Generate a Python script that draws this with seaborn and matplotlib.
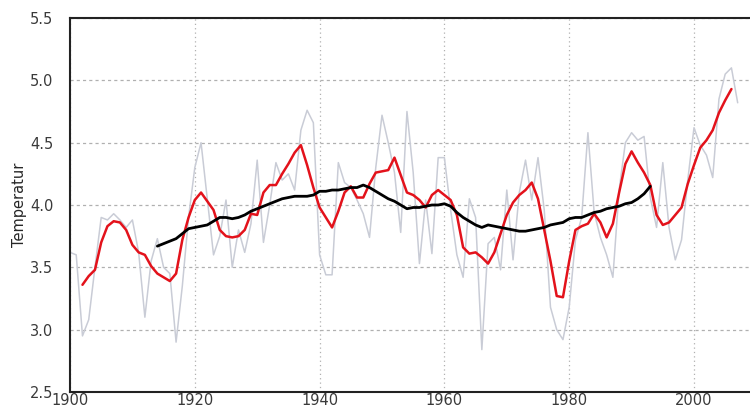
import numpy as np
import pandas as pd
import matplotlib
matplotlib.use("Agg")
import matplotlib.pyplot as plt
import seaborn as sns

# annual values, 1900-2007 (grey)
annual_years = list(range(1900, 2008))
annual_temp = [
    3.62, 3.60, 2.95, 3.08, 3.50, 3.90, 3.88, 3.93, 3.88, 3.82,
    3.88, 3.62, 3.10, 3.55, 3.73, 3.50, 3.45, 2.90, 3.35, 3.90,
    4.30, 4.50, 4.05, 3.60, 3.75, 4.04, 3.50, 3.80, 3.62, 3.85,
    4.36, 3.70, 4.00, 4.34, 4.20, 4.25, 4.12, 4.60, 4.76, 4.66,
    3.60, 3.44, 3.44, 4.34, 4.18, 4.14, 4.04, 3.93, 3.74, 4.30,
    4.72, 4.50, 4.26, 3.78, 4.75, 4.26, 3.53, 4.04, 3.61, 4.38,
    4.38, 3.96, 3.60, 3.42, 4.05, 3.90, 2.84, 3.69, 3.74, 3.48,
    4.12, 3.56, 4.10, 4.36, 4.04, 4.38, 3.96, 3.18, 3.00, 2.92,
    3.18, 3.72, 3.90, 4.58, 3.94, 3.74, 3.60, 3.42, 4.12, 4.50,
    4.58, 4.52, 4.55, 4.06, 3.82, 4.34, 3.82, 3.56, 3.72, 4.20,
    4.62, 4.48, 4.40, 4.22, 4.85, 5.05, 5.10, 4.82,
]

# short smoothing (red), 1902-2006
short_years = list(range(1902, 2007))
short_temp = [
    3.36, 3.43, 3.48, 3.70, 3.83, 3.87, 3.86, 3.80,
    3.68, 3.62, 3.60, 3.51, 3.45, 3.42, 3.39, 3.45, 3.72, 3.90,
    4.04, 4.10, 4.03, 3.96, 3.80, 3.75, 3.74, 3.75, 3.80, 3.93,
    3.92, 4.10, 4.16, 4.16, 4.25, 4.33, 4.42, 4.48, 4.32, 4.14,
    3.98, 3.90, 3.82, 3.95, 4.10, 4.15, 4.06, 4.06, 4.17, 4.26,
    4.27, 4.28, 4.38, 4.24, 4.10, 4.08, 4.04, 3.98, 4.08, 4.12,
    4.08, 4.04, 3.92, 3.66, 3.61, 3.62, 3.58, 3.53, 3.62, 3.77,
    3.92, 4.02, 4.08, 4.12, 4.18, 4.05, 3.80, 3.55, 3.27, 3.26,
    3.55, 3.80, 3.83, 3.85, 3.93, 3.86, 3.74, 3.85, 4.10, 4.33,
    4.43, 4.34, 4.26, 4.16, 3.92, 3.84, 3.86, 3.92, 3.98, 4.17,
    4.32, 4.46, 4.52, 4.60, 4.74, 4.84, 4.93,
]

# long smoothing (black), 1914-1993
long_years = list(range(1914, 1994))
long_temp = [
    3.67, 3.69, 3.71, 3.73, 3.77, 3.81,
    3.82, 3.83, 3.84, 3.87, 3.90, 3.90, 3.89, 3.90, 3.92, 3.95,
    3.97, 3.99, 4.01, 4.03, 4.05, 4.06, 4.07, 4.07, 4.07, 4.08,
    4.11, 4.11, 4.12, 4.12, 4.13, 4.14, 4.14, 4.16, 4.14, 4.11,
    4.08, 4.05, 4.03, 4.00, 3.97, 3.98, 3.98, 3.99, 4.00, 4.00,
    4.01, 3.99, 3.94, 3.90, 3.87, 3.84, 3.82, 3.84, 3.83, 3.82,
    3.81, 3.80, 3.79, 3.79, 3.80, 3.81, 3.82, 3.84, 3.85, 3.86,
    3.89, 3.90, 3.90, 3.92, 3.94, 3.95, 3.97, 3.98, 3.99, 4.01,
    4.02, 4.05, 4.09, 4.15,
]

x_ticks = [1900, 1920, 1940, 1960, 1980, 2000]
y_ticks = [2.5, 3.0, 3.5, 4.0, 4.5, 5.0, 5.5]

sns.set_style("white")

fig = plt.figure(figsize=(7.5, 4.07), dpi=100)
ax = fig.add_axes([70 / 750, 15 / 407, 690 / 750, 374 / 407])

sns.lineplot(x=annual_years, y=annual_temp, ax=ax, color="#c9ccd6", linewidth=1.1)
sns.lineplot(x=short_years, y=short_temp, ax=ax, color="#e3121b", linewidth=1.8)
sns.lineplot(x=long_years, y=long_temp, ax=ax, color="black", linewidth=2.0)

ax.set_xlim(1900, 1900 + 690 / 6.24)
ax.set_ylim(2.5, 5.5)
ax.set_xticks(x_ticks)
ax.set_yticks(y_ticks)
ax.set_xticklabels([str(t) for t in x_ticks])
ax.set_yticklabels([f"{t:.1f}" for t in y_ticks])

ax.xaxis.grid(True, color="#b0b0b0", linestyle=(0, (1, 2.5)), linewidth=0.9)
ax.yaxis.grid(True, color="#b0b0b0", linestyle=(0, (2.5, 2.5)), linewidth=0.9)
ax.set_axisbelow(True)

for side in ["left", "top", "bottom"]:
    ax.spines[side].set_color("#222222")
    ax.spines[side].set_linewidth(1.5)
ax.spines["right"].set_visible(False)

ax.tick_params(axis="both", length=0, labelsize=10.5, labelcolor="#3a3a3a")
ax.tick_params(axis="x", pad=1)
ax.tick_params(axis="y", pad=12)

ax.set_xlabel("")
ax.set_ylabel("Temperatur", fontsize=10.5,
              family=["Liberation Sans Narrow", "DejaVu Sans"], labelpad=2)

fig.savefig("out.png", dpi=100)
